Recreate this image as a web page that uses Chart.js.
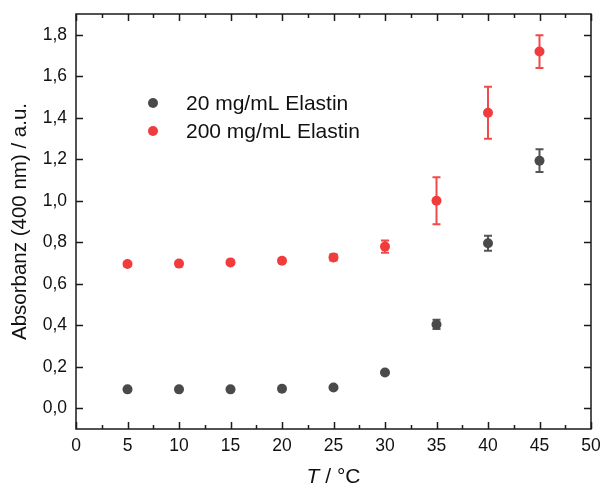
<!DOCTYPE html>
<html><head><meta charset="utf-8">
<script src="https://cdn.jsdelivr.net/npm/chart.js@4/dist/chart.umd.min.js"></script>
<style>html,body{margin:0;padding:0;background:#fff}#wrap{width:601px;height:486px}</style>
</head><body><div id="wrap"><canvas id="c" width="601" height="486"></canvas></div>
<script>
const temps = [5, 10, 15, 20, 25, 30, 35, 40, 45];
const low = [0.091, 0.091, 0.091, 0.094, 0.100, 0.172, 0.404, 0.795, 1.193];
const lowErr = [0.004, 0.004, 0.004, 0.005, 0.006, 0.008, 0.022, 0.036, 0.055];
const high = [0.695, 0.697, 0.703, 0.711, 0.727, 0.779, 1.000, 1.424, 1.719];
const highErr = [0.008, 0.008, 0.008, 0.010, 0.015, 0.030, 0.113, 0.125, 0.079];
const labels = ['20 mg/mL Elastin', '200 mg/mL Elastin'];
const colors = ['#4a4a4a', '#f03c3c'];
const errColors = ['#555555', '#f24a4a'];
const xTicks = [0, 5, 10, 15, 20, 25, 30, 35, 40, 45, 50];
const xMinor = [2.5, 7.5, 12.5, 17.5, 22.5, 27.5, 32.5, 37.5, 42.5, 47.5];
const yTicks = [0.0, 0.2, 0.4, 0.6, 0.8, 1.0, 1.2, 1.4, 1.6, 1.8];
const yTitle = 'Absorbanz (400 nm) / a.u.';
const xTitleItalic = 'T';
const xTitleRest = ' / °C';

const FONT = '"Liberation Sans", Arial, sans-serif';
const mk = (xs, ys) => xs.map((x, i) => ({x, y: ys[i]}));
const errs = [lowErr, highErr];

const framePlugin = {
  id: 'frame',
  beforeDatasetsDraw(chart) {
    const {ctx, scales: {x, y}} = chart;
    ctx.save();
    chart.data.datasets.forEach((ds, di) => {
      ctx.strokeStyle = errColors[di];
      ctx.lineWidth = 2;
      ds.data.forEach((p, i) => {
        const e = errs[di][i];
        const px = x.getPixelForValue(p.x);
        const y1 = y.getPixelForValue(p.y + e), y2 = y.getPixelForValue(p.y - e);
        if (y2 - y1 < 3) return;
        ctx.beginPath();
        ctx.moveTo(px, y1); ctx.lineTo(px, y2);
        ctx.moveTo(px - 4, y1); ctx.lineTo(px + 4, y1);
        ctx.moveTo(px - 4, y2); ctx.lineTo(px + 4, y2);
        ctx.stroke();
      });
    });
    ctx.restore();
  },
  afterDraw(chart) {
    const {ctx, chartArea: a, scales: {x, y}} = chart;
    ctx.save();
    ctx.strokeStyle = '#1a1a1a';
    ctx.lineWidth = 1.5;
    ctx.strokeRect(a.left, a.top, a.right - a.left, a.bottom - a.top);
    ctx.beginPath();
    xTicks.forEach(v => {
      const px = Math.round(x.getPixelForValue(v)) + 0.5;
      ctx.moveTo(px, a.bottom); ctx.lineTo(px, a.bottom - 7);
      ctx.moveTo(px, a.top); ctx.lineTo(px, a.top + 7);
    });
    xMinor.forEach(v => {
      const px = Math.round(x.getPixelForValue(v)) + 0.5;
      ctx.moveTo(px, a.bottom); ctx.lineTo(px, a.bottom - 4);
      ctx.moveTo(px, a.top); ctx.lineTo(px, a.top + 4);
    });
    yTicks.forEach(v => {
      const py = Math.round(y.getPixelForValue(v)) + 0.5;
      ctx.moveTo(a.left, py); ctx.lineTo(a.left + 7, py);
      ctx.moveTo(a.right, py); ctx.lineTo(a.right - 7, py);
    });
    ctx.stroke();
    // legend
    ctx.font = '21px ' + FONT;
    ctx.textBaseline = 'middle';
    labels.forEach((t, i) => {
      const ly = 103 + i * 28;
      ctx.fillStyle = colors[i];
      ctx.beginPath(); ctx.arc(153, ly, 5, 0, Math.PI * 2); ctx.fill();
      ctx.fillStyle = '#111';
      ctx.textAlign = 'left';
      ctx.fillText(t, 186, ly + 1);
    });
    // x title
    const cx = (a.left + a.right) / 2;
    ctx.font = 'italic 21px ' + FONT;
    const w1 = ctx.measureText(xTitleItalic).width;
    ctx.font = '21px ' + FONT;
    const w2 = ctx.measureText(xTitleRest).width;
    const sx = cx - (w1 + w2) / 2;
    ctx.textAlign = 'left';
    ctx.fillStyle = '#111';
    ctx.font = 'italic 21px ' + FONT;
    ctx.fillText(xTitleItalic, sx, 477);
    ctx.font = '21px ' + FONT;
    ctx.fillText(xTitleRest, sx + w1, 477);
    ctx.restore();
  }
};

const zeroPad = s => { s.paddingLeft = 0; s.paddingRight = 0; s.paddingTop = 0; s.paddingBottom = 0; };

new Chart(document.getElementById('c'), {
  type: 'scatter',
  data: {
    datasets: [
      {label: labels[0], data: mk(temps, low), backgroundColor: colors[0], borderColor: colors[0], pointRadius: 5, pointBorderWidth: 0},
      {label: labels[1], data: mk(temps, high), backgroundColor: colors[1], borderColor: colors[1], pointRadius: 5, pointBorderWidth: 0}
    ]
  },
  options: {
    responsive: false,
    animation: false,
    layout: {autoPadding: false, padding: {left: 0, right: 10, top: 14, bottom: 0}},
    plugins: {legend: {display: false}, tooltip: {enabled: false}},
    scales: {
      x: {
        type: 'linear', min: 0, max: 50,
        afterBuildTicks: s => { s.ticks = xTicks.map(v => ({value: v})); },
        afterFit: s => { s.height = 57; zeroPad(s); },
        grid: {display: false, drawTicks: false},
        border: {display: false},
        ticks: {color: '#111', font: {family: FONT, size: 17.5}, padding: 7, maxRotation: 0, autoSkip: false, callback: v => String(v)}
      },
      y: {
        type: 'linear', min: -0.1, max: 1.9,
        afterBuildTicks: s => { s.ticks = yTicks.map(v => ({value: v})); },
        afterFit: s => { s.width = 76; zeroPad(s); },
        grid: {display: false, drawTicks: false},
        border: {display: false},
        ticks: {color: '#111', font: {family: FONT, size: 17.5}, padding: 9, autoSkip: false, callback: v => v.toFixed(1).replace('.', ',')},
        title: {display: true, text: yTitle, color: '#111', font: {family: FONT, size: 20.5}, padding: {top: 8, bottom: 0}}
      }
    }
  },
  plugins: [framePlugin]
});
</script></body></html>
